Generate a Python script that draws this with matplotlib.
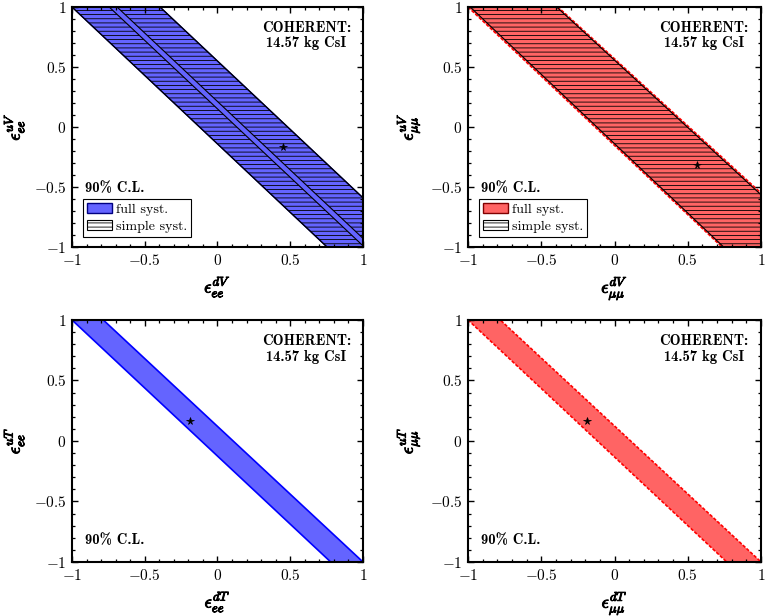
import matplotlib
matplotlib.use("Agg")
import matplotlib.pyplot as plt
import matplotlib.patheffects as pe
from matplotlib.patches import Polygon, Patch
from matplotlib.ticker import MultipleLocator, FixedLocator, FixedFormatter

plt.rcParams["mathtext.fontset"] = "cm"
plt.rcParams["font.family"] = "serif"
plt.rcParams["font.serif"] = ["cmr10", "DejaVu Serif"]
plt.rcParams["axes.unicode_minus"] = True
plt.rcParams["hatch.linewidth"] = 0.6

# band outlines (polygon vertices, data coords)
# eps_ee^V plane
ee_v_full_x = [-1.0, 0.753, 1.0, 1.0, -0.395]
ee_v_full_y = [1.0, -1.0, -1.0, -0.59, 1.0]
ee_v_simple_a_x = [-1.0, 0.753, 1.0, 1.0, -0.744]
ee_v_simple_a_y = [1.0, -1.0, -1.0, -0.99, 1.0]
ee_v_simple_b_x = [-0.69, 1.0, 1.0, -0.395]
ee_v_simple_b_y = [1.0, -0.928, -0.59, 1.0]
ee_v_best = (0.448, -0.169)

# eps_mumu^V plane
mm_v_full_x = [-1.0, 0.734, 1.0, 1.0, -0.386]
mm_v_full_y = [1.0, -1.0, -1.0, -0.55, 1.0]
mm_v_simple_x = [-0.985, 0.745, 1.0, 1.0, -0.395]
mm_v_simple_y = [1.0, -1.0, -1.0, -0.565, 1.0]
mm_v_best = (0.565, -0.317)

# eps_ee^T plane
ee_t_full_x = [-1.0, 0.778, 1.0, -0.785]
ee_t_full_y = [1.0, -1.0, -1.0, 1.0]
ee_t_best = (-0.19, 0.165)

# eps_mumu^T plane
mm_t_full_x = [-1.0, 0.766, 1.0, -0.78]
mm_t_full_y = [1.0, -1.0, -1.0, 1.0]
mm_t_best = (-0.19, 0.165)

tick_vals = [-1, -0.5, 0, 0.5, 1]
tick_text = ["$-1$", "$-0.5$", "$0$", "$0.5$", "$1$"]

blue_fill = "#6464ff"
red_fill = "#ff6464"
bold_fx = [pe.withStroke(linewidth=0.7, foreground="black")]


def poly(ax, xs, ys, **kw):
    p = Polygon(list(zip(xs, ys)), closed=True, **kw)
    ax.add_patch(p)
    return p


def style_axes(ax, xlabel, ylabel):
    ax.set_xlim(-1, 1)
    ax.set_ylim(-1, 1)
    for axis in (ax.xaxis, ax.yaxis):
        axis.set_major_locator(FixedLocator(tick_vals))
        axis.set_major_formatter(FixedFormatter(tick_text))
        axis.set_minor_locator(MultipleLocator(0.1))
    ax.tick_params(which="both", direction="in", top=True, right=True,
                   labelsize=11, pad=4)
    ax.tick_params(which="major", length=4.5, width=1.0)
    ax.tick_params(which="minor", length=2.5, width=0.9)
    for s in ax.spines.values():
        s.set_linewidth(1.5)
        s.set_zorder(10)
    xl = ax.set_xlabel(xlabel, fontsize=13, labelpad=5)
    yl = ax.set_ylabel(ylabel, fontsize=13, labelpad=5)
    xl.set_path_effects(bold_fx)
    yl.set_path_effects(bold_fx)
    ax.text(0.61, 0.76, "COHERENT:\n14.57 kg CsI", ha="center", va="center",
            family="cmb10", fontsize=10.5, linespacing=1.1)


def add_legend(ax, fill, edge):
    handles = [Patch(facecolor=fill, edgecolor=edge, linewidth=1.0, label="full syst."),
               Patch(facecolor="white", edgecolor="black", hatch="----",
                     linewidth=0.8, label="simple syst.")]
    leg = ax.legend(handles=handles, loc="lower left", bbox_to_anchor=(0.038, 0.042),
                    borderaxespad=0, fancybox=False, framealpha=1, edgecolor="black",
                    fontsize=10, handlelength=1.8, handletextpad=0.25,
                    borderpad=0.3, labelspacing=0.3)
    leg.get_frame().set_linewidth(0.8)


fig = plt.figure(figsize=(7.65, 6.16), dpi=100)
ax1 = fig.add_axes([0.0941, 0.599, 0.3804, 0.3896])
ax2 = fig.add_axes([0.6118, 0.599, 0.383, 0.3896])
ax3 = fig.add_axes([0.0941, 0.0877, 0.3804, 0.3929])
ax4 = fig.add_axes([0.6118, 0.0877, 0.383, 0.3929])

# top left
poly(ax1, ee_v_full_x, ee_v_full_y, facecolor=blue_fill, edgecolor="#000080", lw=1.0)
poly(ax1, ee_v_simple_a_x, ee_v_simple_a_y, facecolor="none", edgecolor="black",
     hatch="----", lw=0.8)
poly(ax1, ee_v_simple_b_x, ee_v_simple_b_y, facecolor="none", edgecolor="black",
     hatch="----", lw=0.8)
ax1.plot(*ee_v_best, marker="*", color="black", ms=5.5, mew=0.5)
style_axes(ax1, r"$\epsilon_{ee}^{dV}$", r"$\epsilon_{ee}^{uV}$")
ax1.text(-0.91, -0.51, "90% C.L.", family="cmb10", fontsize=10.5, va="center")
add_legend(ax1, blue_fill, "#000080")

# top right
poly(ax2, mm_v_full_x, mm_v_full_y, facecolor=red_fill, edgecolor="red", lw=1.2,
     linestyle=(0, (2, 1)))
poly(ax2, mm_v_simple_x, mm_v_simple_y, facecolor="none", edgecolor="black",
     hatch="----", lw=0.8)
ax2.plot(*mm_v_best, marker="*", color="black", ms=5.5, mew=0.5)
style_axes(ax2, r"$\epsilon_{\mu\mu}^{dV}$", r"$\epsilon_{\mu\mu}^{uV}$")
ax2.text(-0.91, -0.51, "90% C.L.", family="cmb10", fontsize=10.5, va="center")
add_legend(ax2, red_fill, "#800000")

# bottom left
poly(ax3, ee_t_full_x, ee_t_full_y, facecolor=blue_fill, edgecolor="blue", lw=1.2)
ax3.plot(*ee_t_best, marker="*", color="black", ms=5.5, mew=0.5)
style_axes(ax3, r"$\epsilon_{ee}^{dT}$", r"$\epsilon_{ee}^{uT}$")
ax3.text(-0.91, -0.82, "90% C.L.", family="cmb10", fontsize=10.5, va="center")

# bottom right
poly(ax4, mm_t_full_x, mm_t_full_y, facecolor=red_fill, edgecolor="red", lw=1.2,
     linestyle=(0, (2, 1)))
ax4.plot(*mm_t_best, marker="*", color="black", ms=5.5, mew=0.5)
style_axes(ax4, r"$\epsilon_{\mu\mu}^{dT}$", r"$\epsilon_{\mu\mu}^{uT}$")
ax4.text(-0.91, -0.82, "90% C.L.", family="cmb10", fontsize=10.5, va="center")

fig.savefig("out.png", dpi=100)
